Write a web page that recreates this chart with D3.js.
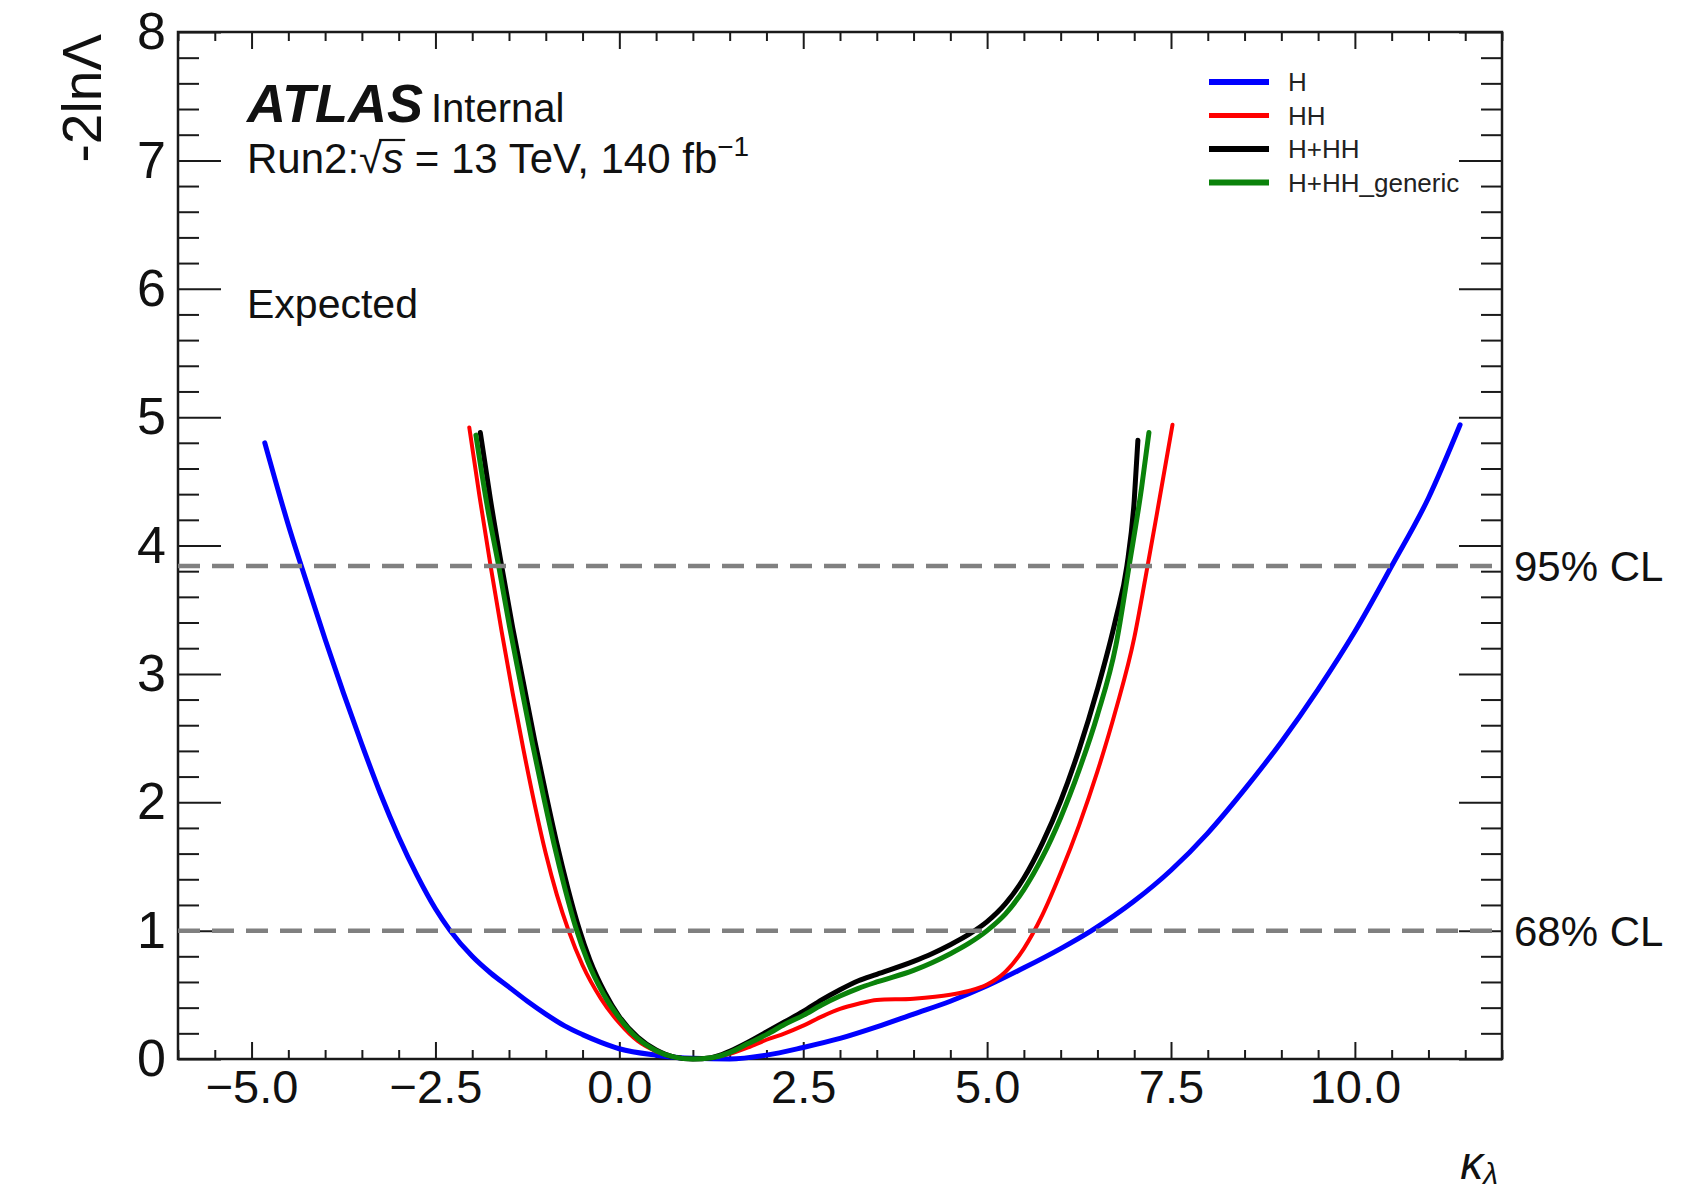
<!DOCTYPE html>
<meta charset="utf-8">
<style>

body {
  margin: 0;
  background: #fff;
}

svg {
  display: block;
  font-family: "Liberation Sans", Arial, Helvetica, sans-serif;
}

text {
  fill: #111;
}

.frame {
  fill: none;
  stroke: #1a1a1a;
  stroke-width: 2.5;
}

.axis .tick line {
  stroke: #1a1a1a;
  stroke-width: 2;
}

.axis .domain {
  display: none;
}

.curve {
  fill: none;
  stroke-linejoin: round;
  stroke-linecap: round;
}

.cl {
  stroke: #808080;
  stroke-width: 4.5;
  stroke-dasharray: 22, 12;
}

</style>
<body>
<script src="https://d3js.org/d3.v7.min.js"></script>
<script>

// likelihood scan points: kappa_lambda and -2 ln Lambda per fit
var kappaH = [-4.82, -4.5, -4.25, -4.0, -3.75, -3.5, -3.25, -3.0, -2.75, -2.5, -2.3, -2.0, -1.75, -1.5, -1.25, -1.0, -0.75, -0.5, -0.25, 0.0, 0.5, 1.0, 1.5, 2.0, 2.5, 3.0, 3.5, 4.0, 4.5, 5.0, 5.5, 6.0, 6.42, 7.0, 7.5, 8.0, 8.5, 9.0, 9.5, 10.0, 10.5, 11.0, 11.43];
var nllH   = [4.80, 4.16, 3.71, 3.27, 2.85, 2.45, 2.07, 1.73, 1.43, 1.17, 1.0, 0.80, 0.67, 0.56, 0.45, 0.35, 0.26, 0.19, 0.13, 0.08, 0.03, 0.005, 0.0, 0.03, 0.09, 0.16, 0.25, 0.35, 0.45, 0.57, 0.71, 0.86, 1.0, 1.23, 1.47, 1.76, 2.1, 2.47, 2.88, 3.33, 3.84, 4.37, 4.94];

var kappaHH = [-2.04, -1.9, -1.75, -1.6, -1.45, -1.3, -1.15, -1.0, -0.85, -0.69, -0.5, -0.25, 0.0, 0.25, 0.5, 0.75, 1.0, 1.25, 1.5, 1.75, 2.0, 2.25, 2.5, 2.75, 3.0, 3.25, 3.5, 4.0, 4.5, 4.75, 5.0, 5.25, 5.5, 5.75, 6.0, 6.25, 6.5, 6.75, 7.0, 7.15, 7.3, 7.52];
var nllHH   = [4.92, 4.38, 3.84, 3.33, 2.85, 2.40, 1.98, 1.60, 1.28, 1.0, 0.73, 0.47, 0.28, 0.14, 0.06, 0.015, 0.0, 0.01, 0.04, 0.09, 0.15, 0.20, 0.26, 0.33, 0.39, 0.43, 0.46, 0.47, 0.50, 0.53, 0.58, 0.68, 0.86, 1.12, 1.45, 1.82, 2.24, 2.72, 3.28, 3.74, 4.22, 4.94];

var kappaComb = [-1.89, -1.75, -1.6, -1.45, -1.3, -1.15, -1.0, -0.85, -0.7, -0.55, -0.4, -0.2, 0.0, 0.25, 0.5, 0.75, 1.0, 1.25, 1.5, 1.75, 2.0, 2.25, 2.5, 2.75, 3.0, 3.25, 3.5, 4.0, 4.25, 4.5, 4.75, 5.0, 5.25, 5.5, 5.75, 6.0, 6.25, 6.5, 6.75, 6.9, 7.0, 7.05];
var nllComb   = [4.88, 4.35, 3.84, 3.36, 2.92, 2.48, 2.07, 1.68, 1.33, 1.02, 0.77, 0.52, 0.33, 0.17, 0.07, 0.015, 0.0, 0.01, 0.06, 0.13, 0.21, 0.29, 0.37, 0.46, 0.54, 0.61, 0.66, 0.76, 0.82, 0.89, 0.97, 1.07, 1.21, 1.41, 1.68, 2.01, 2.41, 2.88, 3.43, 3.84, 4.35, 4.82];

var kappaGen = [-1.95, -1.8, -1.64, -1.49, -1.34, -1.19, -1.04, -0.89, -0.74, -0.59, -0.43, -0.22, 0.0, 0.25, 0.5, 0.75, 1.0, 1.25, 1.5, 1.75, 2.0, 2.25, 2.5, 2.75, 3.0, 3.25, 3.5, 4.0, 4.25, 4.5, 4.75, 5.0, 5.25, 5.5, 5.75, 6.0, 6.25, 6.5, 6.75, 6.93, 7.1, 7.2];
var nllGen   = [4.86, 4.32, 3.84, 3.36, 2.92, 2.48, 2.07, 1.68, 1.33, 1.02, 0.76, 0.51, 0.32, 0.16, 0.065, 0.015, 0.0, 0.01, 0.05, 0.12, 0.19, 0.27, 0.34, 0.42, 0.49, 0.55, 0.60, 0.69, 0.75, 0.82, 0.90, 1.0, 1.13, 1.32, 1.57, 1.88, 2.25, 2.68, 3.22, 3.84, 4.45, 4.88];

var seriesNames  = ["H", "HH", "H+HH", "H+HH_generic"];
var seriesColors = ["#0000ff", "#ff0000", "#000000", "#0a820a"];
var seriesWidths = [5, 4, 5, 5];

var xMajorTicks = [-5, -2.5, 0, 2.5, 5, 7.5, 10];
var yMajorTicks = [0, 1, 2, 3, 4, 5, 6, 7, 8];

var clLevels = [1, 3.84];
var clLabels = ["68% CL", "95% CL"];

var margin = {top: 32, right: 183, bottom: 134, left: 178},
    width = 1685 - margin.left - margin.right,
    height = 1193 - margin.top - margin.bottom;

var root = d3.select("body").append("svg")
    .attr("width", width + margin.left + margin.right)
    .attr("height", height + margin.top + margin.bottom);

var svg = root.append("g")
    .attr("transform", "translate(" + margin.left + "," + margin.top + ")");

var x = d3.scaleLinear()
    .domain([-6, 12])
    .range([0, width]);

var y = d3.scaleLinear()
    .domain([0, 8])
    .range([height, 0]);

var xMinorTicks = d3.range(-12, 25).map(function(i) { return i * 0.5; })
    .filter(function(v) { return xMajorTicks.indexOf(v) < 0; });
var yMinorTicks = d3.range(0, 41).filter(function(i) { return i % 5 !== 0; })
    .map(function(i) { return i / 5; });

// ROOT style: ticks point into the frame on all four sides
svg.append("g")
    .attr("class", "axis")
    .attr("transform", "translate(0," + height + ")")
    .call(d3.axisBottom(x).tickValues(xMajorTicks).tickSizeInner(-17).tickSizeOuter(0)
      .tickPadding(11).tickFormat(d3.format(".1f")))
    .selectAll("text")
    .style("font-size", "47px")
    .style("fill", "#111");

svg.append("g")
    .attr("class", "axis")
    .attr("transform", "translate(0," + height + ")")
    .call(d3.axisBottom(x).tickValues(xMinorTicks).tickSizeInner(-9).tickSizeOuter(0).tickFormat(""));

svg.append("g")
    .attr("class", "axis")
    .call(d3.axisTop(x).tickValues(xMajorTicks).tickSizeInner(-17).tickSizeOuter(0).tickFormat(""));

svg.append("g")
    .attr("class", "axis")
    .call(d3.axisTop(x).tickValues(xMinorTicks).tickSizeInner(-9).tickSizeOuter(0).tickFormat(""));

svg.append("g")
    .attr("class", "axis")
    .call(d3.axisLeft(y).tickValues(yMajorTicks).tickSizeInner(-43).tickSizeOuter(0)
      .tickPadding(12).tickFormat(d3.format("d")))
    .selectAll("text")
    .style("font-size", "52px")
    .style("fill", "#111");

svg.append("g")
    .attr("class", "axis")
    .call(d3.axisLeft(y).tickValues(yMinorTicks).tickSizeInner(-21).tickSizeOuter(0).tickFormat(""));

svg.append("g")
    .attr("class", "axis")
    .attr("transform", "translate(" + width + ",0)")
    .call(d3.axisRight(y).tickValues(yMajorTicks).tickSizeInner(-43).tickSizeOuter(0).tickFormat(""));

svg.append("g")
    .attr("class", "axis")
    .attr("transform", "translate(" + width + ",0)")
    .call(d3.axisRight(y).tickValues(yMinorTicks).tickSizeInner(-21).tickSizeOuter(0).tickFormat(""));

svg.append("rect")
    .attr("class", "frame")
    .attr("width", width)
    .attr("height", height);

// curves
var lineGenerator = d3.line()
    .curve(d3.curveMonotoneX)
    .x(function(d) { return x(d[0]); })
    .y(function(d) { return y(d[1]); });

var series = [
  d3.zip(kappaH, nllH),
  d3.zip(kappaHH, nllHH),
  d3.zip(kappaComb, nllComb),
  d3.zip(kappaGen, nllGen)
];

svg.selectAll(".curve")
    .data(series)
  .enter().append("path")
    .attr("class", "curve")
    .attr("d", lineGenerator)
    .style("stroke", function(d, i) { return seriesColors[i]; })
    .style("stroke-width", function(d, i) { return seriesWidths[i]; });

// confidence level lines
svg.selectAll(".cl")
    .data(clLevels)
  .enter().append("line")
    .attr("class", "cl")
    .attr("x1", 0)
    .attr("x2", width)
    .attr("y1", function(d) { return y(d); })
    .attr("y2", function(d) { return y(d); });

svg.selectAll(".cl-label")
    .data(clLevels)
  .enter().append("text")
    .attr("class", "cl-label")
    .attr("x", width + 12)
    .attr("y", function(d) { return y(d); })
    .attr("dy", "0.36em")
    .style("font-size", "42px")
    .text(function(d, i) { return clLabels[i]; });

// axis titles
var xTitle = svg.append("text")
    .attr("x", width - 4)
    .attr("y", height + 120)
    .attr("text-anchor", "end")
    .style("font-size", "46px")
    .style("font-style", "italic");
xTitle.append("tspan").text("κ");
xTitle.append("tspan").attr("dy", 5).style("font-size", "30px").text("λ");

root.append("text")
    .attr("transform", "translate(101,34) rotate(-90)")
    .attr("text-anchor", "end")
    .style("font-size", "55px")
    .text("-2lnΛ");

// experiment label
var atlas = root.append("text")
    .attr("x", 247)
    .attr("y", 122);
atlas.append("tspan")
    .style("font-size", "54px")
    .style("font-weight", "bold")
    .style("font-style", "italic")
    .text("ATLAS");
atlas.append("tspan")
    .attr("dx", 8)
    .style("font-size", "40px")
    .text("Internal");

var lumiY = 173;
var lumi = root.append("text")
    .attr("x", 247)
    .attr("y", lumiY)
    .style("font-size", "42px");
lumi.append("tspan").text("Run2:√");
lumi.append("tspan")
    .style("font-style", "italic")
    .text("s");
lumi.append("tspan").text(" = 13 TeV, 140 fb");
lumi.append("tspan")
    .attr("dy", -17)
    .style("font-size", "28px")
    .text("−1");

// bar of the square root, over the "s"
var rootBox = lumi.node().getExtentOfChar(5),
    sBox = lumi.node().getExtentOfChar(6);
root.append("line")
    .attr("x1", rootBox.x + rootBox.width - 3)
    .attr("x2", sBox.x + sBox.width + 2)
    .attr("y1", lumiY - 33)
    .attr("y2", lumiY - 33)
    .style("stroke", "#111")
    .style("stroke-width", 2.2);

root.append("text")
    .attr("x", 247)
    .attr("y", 318)
    .style("font-size", "41px")
    .text("Expected");

// legend
var legend = svg.selectAll(".legend")
    .data(seriesNames)
  .enter().append("g")
    .attr("class", "legend")
    .attr("transform", function(d, i) { return "translate(1031," + (50 + i * 33.5) + ")"; });

legend.append("line")
    .attr("x1", 0)
    .attr("x2", 60)
    .style("stroke", function(d, i) { return seriesColors[i]; })
    .style("stroke-width", function(d, i) { return seriesWidths[i] + 1; });

legend.append("text")
    .attr("x", 79)
    .attr("dy", "0.36em")
    .style("font-size", "26px")
    .style("fill", "#222")
    .text(function(d) { return d; });

</script>
